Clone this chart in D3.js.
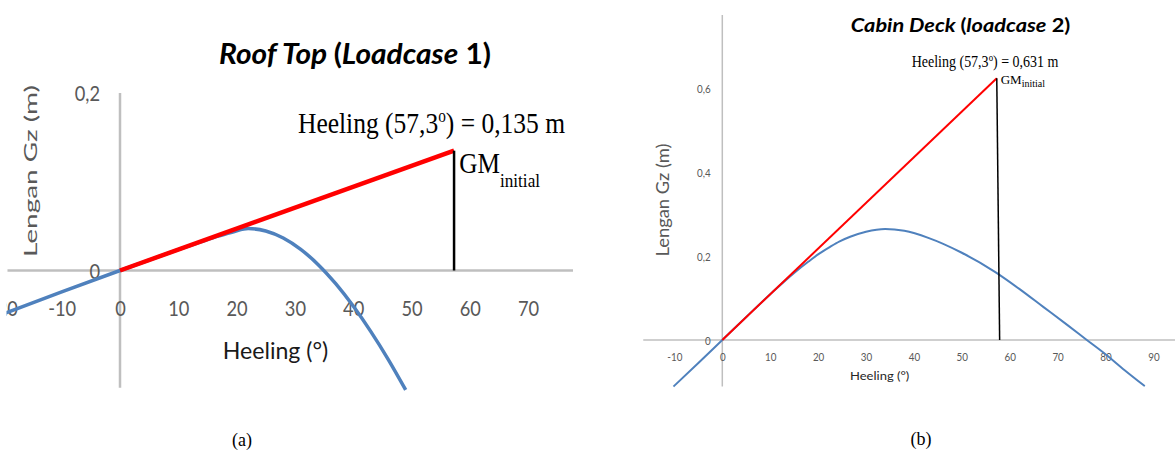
<!DOCTYPE html>
<html><head><meta charset="utf-8">
<script src="https://cdn.jsdelivr.net/npm/d3@7"></script>
<style>html,body{margin:0;padding:0;background:#fff;} svg{display:block;}</style>
</head><body><div id="chart"></div>
<script>
// ---------- Panel (a): Roof Top (Loadcase 1) ----------
const heelA = [-20.6, -10, 0, 5, 10, 14, 17, 19.5, 22, 25, 28, 31, 34, 37, 40, 43, 46, 49];
const gzA   = [-0.0503, -0.0240, 0, 0.0118, 0.0236, 0.0326, 0.0390, 0.0437, 0.0472, 0.0445, 0.0366, 0.0238, 0.0066, -0.0149, -0.0401, -0.0686, -0.1001, -0.1346];
const gmHeelA = [0, 57.3];
const gmValA  = [0, 0.135];
const ticksXA = [-20, -10, 0, 10, 20, 30, 40, 50, 60, 70];
const ticksYA = [0, 0.2];

// ---------- Panel (b): Cabin Deck (loadcase 2) ----------
const heelB = [-10.2, -5, 0, 5, 10, 15, 18, 20, 22.5, 24.5, 26.7, 30, 34, 38, 43, 50, 57, 62, 67, 72, 76.1, 80, 84, 88.2];
const gzB   = [-0.111, -0.055, 0, 0.055, 0.109, 0.160, 0.187, 0.204, 0.222, 0.235, 0.246, 0.258, 0.2646, 0.2602, 0.2435, 0.208, 0.162, 0.122, 0.079, 0.036, 0.0, -0.034, -0.072, -0.110];
const gmHeelB = [0, 57.3];
const gmValB  = [0, 0.624];
const gmFootB = 57.9;
const ticksXB = [-10, 0, 10, 20, 30, 40, 50, 60, 70, 80, 90];
const ticksYB = [0, 0.2, 0.4, 0.6];

const comma = d3.formatLocale({decimal: ",", thousands: ".", grouping: [3], currency: ["", ""], minus: "-"});
const fmtY = d => d === 0 ? "0" : comma.format(".1f")(d);

const svg = d3.select('#chart').append('svg').attr('width', 1175).attr('height', 454);
const defs = svg.append('defs');

function label(g, o) {
  const t = g.append('text').attr('x', o.x).attr('y', o.y)
    .attr('font-size', o.size).attr('font-family', o.family || 'Lato')
    .attr('fill', o.fill || '#000').attr('text-anchor', o.anchor || 'start');
  if (o.weight) t.attr('font-weight', o.weight);
  if (o.length) t.attr('textLength', o.length).attr('lengthAdjust', 'spacingAndGlyphs');
  if (o.rotate) t.attr('transform', `rotate(${o.rotate},${o.x},${o.y})`);
  (o.parts || [{t: o.text}]).forEach(p => {
    const s = t.append('tspan').text(p.t);
    if (p.style) s.attr('font-style', p.style);
    if (p.size) s.attr('font-size', p.size);
    if (p.dy) s.attr('dy', p.dy);
  });
  return t;
}

function panel(cfg) {
  defs.append('clipPath').attr('id', cfg.id).append('rect')
    .attr('x', cfg.clip[0]).attr('y', 0).attr('width', cfg.clip[1] - cfg.clip[0]).attr('height', 454);
  const g = svg.append('g').attr('clip-path', `url(#${cfg.id})`);
  const x = d3.scaleLinear().domain([0, cfg.xMax]).range(cfg.xRange);
  const y = d3.scaleLinear().domain([0, cfg.yMax]).range(cfg.yRange);

  // zero axes lines
  g.append('line').attr('x1', x(cfg.xExt[0])).attr('x2', x(cfg.xExt[1]))
    .attr('y1', y(0)).attr('y2', y(0)).attr('stroke', '#bfbfbf').attr('stroke-width', cfg.axisW);
  g.append('line').attr('x1', x(0)).attr('x2', x(0))
    .attr('y1', y(cfg.yExt[1])).attr('y2', y(cfg.yExt[0])).attr('stroke', '#bfbfbf').attr('stroke-width', cfg.axisW);

  // tick labels via d3 axes
  const ax = g.append('g').attr('transform', `translate(0,${y(0)})`)
    .call(d3.axisBottom(x).tickValues(cfg.ticksX).tickSize(0).tickFormat(d => String(d)));
  ax.select('.domain').remove();
  ax.selectAll('text').attr('y', cfg.xTickBase).attr('dy', null)
    .attr('font-family', 'Lato').attr('font-size', cfg.tickSize).attr('fill', '#595959')
    .attr('transform', `scale(${cfg.tickSx},1)`);

  const ay = g.append('g').attr('transform', `translate(${x(0)},0)`)
    .call(d3.axisLeft(y).tickValues(cfg.ticksY).tickSize(0).tickFormat(fmtY));
  ay.select('.domain').remove();
  ay.selectAll('text').attr('x', cfg.yTickRight / cfg.tickSx).attr('y', cfg.yTickBase).attr('dy', null)
    .attr('font-family', 'Lato').attr('font-size', cfg.tickSize).attr('fill', '#595959')
    .attr('transform', `scale(${cfg.tickSx},1)`);

  // GZ curve
  const line = d3.line().x(d => x(d[0])).y(d => y(d[1])).curve(d3.curveMonotoneX);
  g.append('path').datum(cfg.heel.map((h, i) => [h, cfg.gz[i]]))
    .attr('d', line).attr('fill', 'none').attr('stroke', '#4f81bd')
    .attr('stroke-width', cfg.blueW).attr('stroke-linecap', 'butt');

  // GM initial red line
  g.append('path').datum(cfg.gmHeel.map((h, i) => [h, cfg.gmVal[i]]))
    .attr('d', d3.line().x(d => x(d[0])).y(d => y(d[1])))
    .attr('fill', 'none').attr('stroke', '#ff0000').attr('stroke-width', cfg.redW);

  // vertical black line
  g.append('line').attr('x1', x(cfg.gmHeel[1])).attr('y1', y(cfg.gmVal[1]))
    .attr('x2', x(cfg.gmFoot)).attr('y2', y(0)).attr('stroke', '#000').attr('stroke-width', cfg.blackW);
  return g;
}

// ----- Panel (a) -----
const gA = panel({
  id: 'clipA', clip: [6.5, 600],
  heel: heelA, gz: gzA, gmHeel: gmHeelA, gmVal: gmValA, gmFoot: 57.3,
  ticksX: ticksXA, ticksY: ticksYA,
  xMax: 70, xRange: [120, 528.1], yMax: 0.2, yRange: [270.5, 93],
  xExt: [-19.3, 77.7], yExt: [-0.132, 0.2],
  axisW: 2.5, blueW: 3.5, redW: 4.5, blackW: 2.5,
  tickSize: 21, tickSx: 0.87, xTickBase: 45.2, yTickRight: -20, yTickBase: 7.8
});
label(gA, {x: 355, y: 63.5, size: 28, weight: 'bold', anchor: 'middle', length: 272,
  parts: [{t: 'Roof Top ', style: 'italic'}, {t: '(', style: 'normal'}, {t: 'Loadcase', style: 'italic'}, {t: ' 1)', style: 'normal'}]});
label(gA, {x: 298, y: 133, size: 30, family: 'Liberation Serif', length: 267,
  parts: [{t: 'Heeling (57,3'}, {t: 'o', size: 18, dy: -11}, {t: ') = 0,135 m', dy: 11}]});
label(gA, {x: 459.3, y: 172.7, size: 29, family: 'Liberation Serif', length: 40.7, text: 'GM'});
label(gA, {x: 500, y: 186.7, size: 19, family: 'Liberation Serif', length: 40, text: 'initial'});
label(gA, {x: 37.3, y: 171, size: 17, fill: '#595959', anchor: 'middle', rotate: -90, length: 172, text: 'Lengan Gz (m)'});
label(gA, {x: 222.7, y: 359.3, size: 23, fill: '#1a1a1a', length: 105.6, text: 'Heeling (°)'});
label(gA, {x: 242, y: 446, size: 18, family: 'Liberation Serif', anchor: 'middle', text: '(a)'});

// ----- Panel (b) -----
const gB = panel({
  id: 'clipB', clip: [600, 1175],
  heel: heelB, gz: gzB, gmHeel: gmHeelB, gmVal: gmValB, gmFoot: gmFootB,
  ticksX: ticksXB, ticksY: ticksYB,
  xMax: 90, xRange: [722.3, 1153.4], yMax: 0.6, yRange: [340, 88.3],
  xExt: [-16.5, 94.6], yExt: [-0.111, 0.775],
  axisW: 1.5, blueW: 2, redW: 2, blackW: 1.5,
  tickSize: 12, tickSx: 0.82, xTickBase: 21.3, yTickRight: -11.6, yTickBase: 4.3
});
label(gB, {x: 850.8, y: 31.7, size: 19, weight: 'bold', length: 219.5,
  parts: [{t: 'Cabin Deck ', style: 'italic'}, {t: '(', style: 'normal'}, {t: 'loadcase', style: 'italic'}, {t: ' 2)', style: 'normal'}]});
label(gB, {x: 911.7, y: 66.7, size: 16, family: 'Liberation Serif', length: 146.7,
  parts: [{t: 'Heeling (57,3'}, {t: 'o', size: 10, dy: -6}, {t: ') = 0,631 m', dy: 6}]});
label(gB, {x: 1000.7, y: 84, size: 12, family: 'Liberation Serif', length: 21, text: 'GM'});
label(gB, {x: 1021.7, y: 87, size: 9.5, family: 'Liberation Serif', length: 23.3, text: 'initial'});
label(gB, {x: 669.3, y: 200, size: 17.5, fill: '#595959', anchor: 'middle', rotate: -90, length: 113, text: 'Lengan Gz (m)'});
label(gB, {x: 850, y: 380, size: 12, fill: '#262626', length: 59.3, text: 'Heeling (°)'});
label(gB, {x: 921, y: 445, size: 18, family: 'Liberation Serif', anchor: 'middle', text: '(b)'});
</script>
</body></html>
